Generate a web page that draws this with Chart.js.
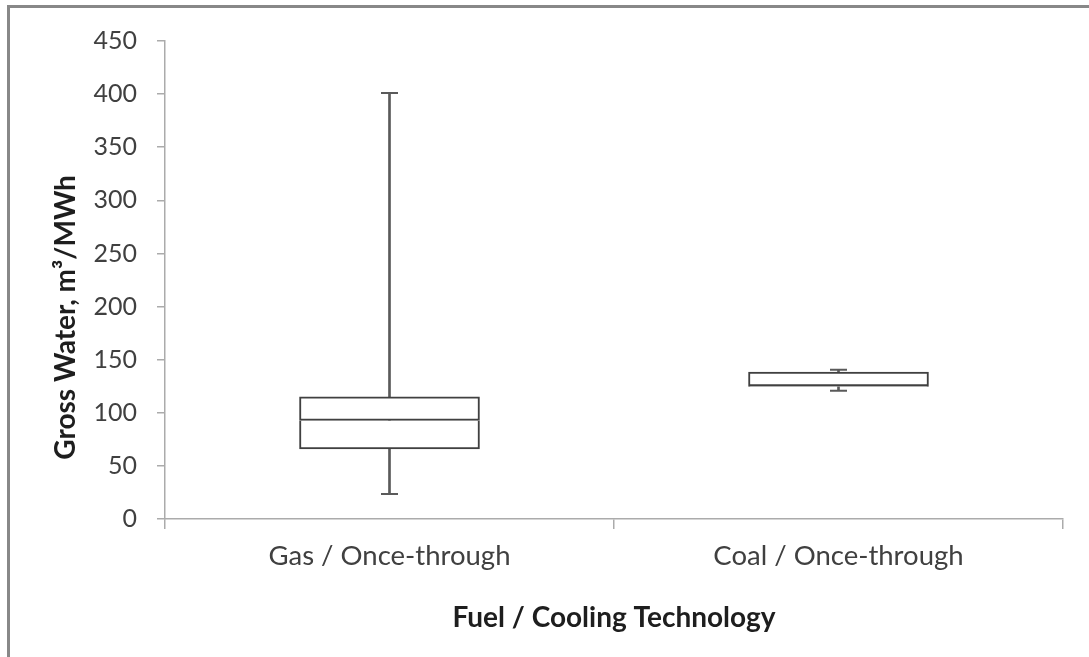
<!DOCTYPE html>
<html>
<head>
<meta charset="utf-8">
<script src="https://cdn.jsdelivr.net/npm/chart.js@4.4.1/dist/chart.umd.min.js"></script>
<style>
  html, body { margin: 0; padding: 0; background: #fff; }
  #wrap { position: relative; width: 1089px; height: 657px; overflow: hidden; }
  #frame { position: absolute; left: 7px; top: 5px; width: 1100px; height: 649px;
           border-left: 3px solid #888; border-top: 3px solid #888; border-bottom: 1px solid #eee; }
  canvas { position: absolute; left: 0; top: 0; }
</style>
</head>
<body>
<div id="wrap">
  <div id="frame"></div>
  <canvas id="c" width="1089" height="657"></canvas>
</div>
<script>
// ---- data ----
const categories = ['Gas / Once-through', 'Coal / Once-through'];
const mins    = [23.5, 120.8];
const q1s     = [66.0, 124.8];
const medians = [92.8, 125.2];
const q3s     = [114.9, 138.4];
const maxs    = [401.0, 140.5];
const yTicks  = [0, 50, 100, 150, 200, 250, 300, 350, 400, 450];

const yTitle = 'Gross Water, m\u00B3/MWh';
const xTitle = 'Fuel / Cooling Technology';

const axisColor = '#ababab';
const boxColor = '#404040';
const whiskerColor = '#5a5a5a';
const FONT = 'Lato';

new Chart(document.getElementById('c'), {
  type: 'bar',
  data: {
    labels: categories,
    datasets: [
      {
        type: 'line', label: 'Max cap', data: maxs, showLine: false,
        pointStyle: 'line', pointRadius: 8.5, pointHoverRadius: 8.5,
        pointBorderWidth: 2, borderColor: whiskerColor, backgroundColor: whiskerColor, order: 0
      },
      {
        type: 'line', label: 'Min cap', data: mins, showLine: false,
        pointStyle: 'line', pointRadius: 8.5, pointHoverRadius: 8.5,
        pointBorderWidth: 2, borderColor: whiskerColor, backgroundColor: whiskerColor, order: 0
      },
      {
        // upper half of the box: median -> Q3 (its bottom edge is the median line)
        label: 'Upper box', data: medians.map((v, i) => [v, q3s[i]]),
        backgroundColor: '#ffffff', borderColor: boxColor, borderWidth: 2,
        borderSkipped: false, barThickness: 180, grouped: false, order: 1
      },
      {
        // lower half of the box: Q1 -> median
        label: 'Lower box', data: q1s.map((v, i) => [v, medians[i]]),
        backgroundColor: '#ffffff', borderColor: boxColor, borderWidth: 2,
        borderSkipped: 'top', barThickness: 180, grouped: false, order: 2
      },
      {
        label: 'Whisker', data: mins.map((v, i) => [v, maxs[i]]),
        backgroundColor: whiskerColor, borderWidth: 0,
        barThickness: 2, grouped: false, order: 3
      }
    ]
  },
  options: {
    responsive: false,
    animation: false,
    events: [],
    layout: { padding: { left: 0, right: 26, top: 41, bottom: 0 } },
    plugins: { legend: { display: false }, tooltip: { enabled: false } },
    scales: {
      x: {
        offset: true,
        grid: { display: true, drawOnChartArea: false, drawTicks: true, tickLength: 10,
                color: axisColor, lineWidth: 1.5, offset: true },
        border: { display: true, color: axisColor, width: 1.5 },
        ticks: { font: { family: FONT, size: 27.5 }, color: '#404040', padding: 11, maxRotation: 0 },
        title: { display: true, text: xTitle, font: { family: FONT, size: 28, weight: 'bold' },
                 color: '#1e1e1e', padding: { top: 0, bottom: 22 } },
        afterFit: (s) => { s.height = 138; }
      },
      y: {
        min: 0, max: 450,
        afterBuildTicks: (s) => { s.ticks = yTicks.map(v => ({ value: v })); },
        grid: { display: true, drawOnChartArea: false, drawTicks: true, tickLength: 8,
                color: axisColor, lineWidth: 1.5 },
        border: { display: true, color: axisColor, width: 1.5 },
        ticks: { font: { family: FONT, size: 25 }, color: '#404040', padding: 20 },
        title: { display: true, text: yTitle + '           ',
                 font: { family: FONT, size: 28, weight: 'bold' },
                 color: '#1e1e1e', padding: { top: 49, bottom: 0 } },
        afterFit: (s) => { s.width = 165; }
      }
    }
  }
});
</script>
</body>
</html>
